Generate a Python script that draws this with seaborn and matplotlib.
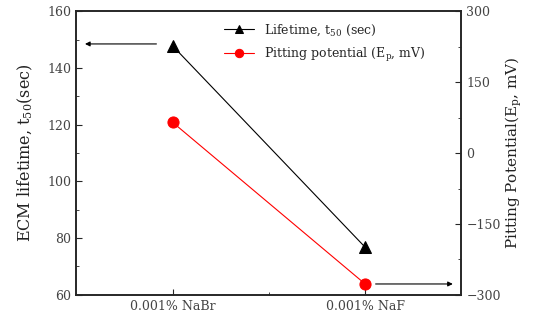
import numpy as np
import pandas as pd
import matplotlib
matplotlib.use('Agg')
import matplotlib.pyplot as plt
import seaborn as sns
from matplotlib.ticker import MultipleLocator

# data
categories = ['0.001% NaBr', '0.001% NaF']
lifetime = [147.8, 76.8]
pitting = [65, -277]
pitting_err = [0, 9]

sns.set_style('ticks')
plt.rcParams['font.family'] = ['DejaVu Serif']
plt.rcParams['mathtext.default'] = 'regular'

df = pd.DataFrame({'cat': categories, 'life': lifetime, 'ep': pitting})

fig, ax = plt.subplots(figsize = (5.46, 3.24), dpi = 100)
ax2 = ax.twinx()

sns.lineplot(data = df, x = 'cat', y = 'life', ax = ax, color = 'black', marker = '^',
             markersize = 8, markeredgecolor = 'black', linewidth = 0.8, sort = False,
             label = 'Lifetime, t$_{50}$ (sec)', legend = False)
ax2.errorbar(df['cat'], df['ep'], yerr = pitting_err, fmt = 'none', ecolor = 'red', elinewidth = 1)
sns.lineplot(data = df, x = 'cat', y = 'ep', ax = ax2, color = 'red', marker = 'o',
             markersize = 8, markeredgecolor = 'red', linewidth = 0.8, sort = False,
             label = 'Pitting potential (E$_{p}$, mV)', legend = False)

ax.set_xlim(-0.5, 1.5)
ax.set_ylim(60, 160)
ax2.set_ylim(-300, 300)
ax.yaxis.set_major_locator(MultipleLocator(20))
ax.yaxis.set_minor_locator(MultipleLocator(10))
ax2.yaxis.set_major_locator(MultipleLocator(150))
ax2.yaxis.set_minor_locator(MultipleLocator(75))
ax.set_xticks([0, 1])
ax.set_xticks([0.5], minor = True)
ax.set_xticklabels(categories)

ax.set_xlabel('')
ax.set_ylabel('ECM lifetime, t$_{50}$(sec)', fontsize = 11.5, color = '#222222', labelpad = 9)
ax2.set_ylabel('Pitting Potential(E$_{p}$, mV)', fontsize = 11, color = '#222222', labelpad = 2)

for a in (ax, ax2):
    a.tick_params(which = 'both', direction = 'in', labelsize = 9, labelcolor = '#444444')
    a.tick_params(which = 'major', length = 4)
    a.tick_params(which = 'minor', length = 2.5)
    for s in a.spines.values():
        s.set_linewidth(1.2)
        s.set_visible(True)

# arrows pointing at the matching axes
ax.annotate('', xy = (-0.47, 148.5), xytext = (-0.07, 148.5),
            arrowprops = dict(arrowstyle = '-|>', color = 'black', lw = 0.8, mutation_scale = 7))
ax2.annotate('', xy = (1.47, -277), xytext = (1.04, -277),
             arrowprops = dict(arrowstyle = '-|>', color = 'black', lw = 0.8, mutation_scale = 7))

h1, l1 = ax.get_legend_handles_labels()
h2, l2 = ax2.get_legend_handles_labels()
ax2.legend(h1 + h2, l1 + l2, loc = 'upper center', bbox_to_anchor = (0.645, 1.0), frameon = False,
           fontsize = 9, handlelength = 2.4, labelspacing = 0.6, markerscale = 0.75)

fig.subplots_adjust(left = 0.14, right = 0.845, top = 0.965, bottom = 0.09)
fig.savefig('out.png', dpi = 100)
